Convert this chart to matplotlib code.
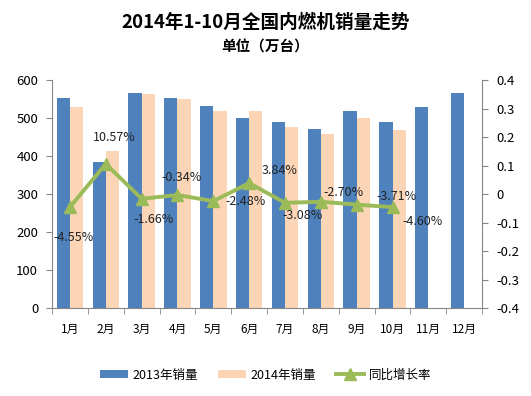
import matplotlib
matplotlib.use('Agg')
import matplotlib.pyplot as plt
import numpy as np

plt.rcParams['font.family'] = ['Noto Sans CJK SC', 'DejaVu Sans']

# --- data ---
months = ["1月", "2月", "3月", "4月", "5月", "6月", "7月", "8月", "9月", "10月", "11月", "12月"]
sales_2013 = [553, 383, 565, 552, 531, 501, 490, 471, 519, 490, 529, 565]
sales_2014 = [529, 413, 562, 550, 519, 519, 476, 458, 500, 468]
growth = [-4.55, 10.57, -1.66, -0.34, -2.48, 3.84, -3.08, -2.70, -3.71, -4.60]
# label offsets (pixels) relative to each marker
label_offsets = [(4, -30), (8, 26), (12, -21), (4, 18), (32, 0), (30, 13),
                 (18, -13), (23, 9), (40, 8), (30, -14)]

BLUE = '#4F81BD'
PEACH = '#FBD5B5'
GREEN = '#9BBB59'
GRAY = '#868686'

fig = plt.figure(figsize=(5.31, 3.96), dpi=100)
ax = fig.add_axes([0.098, 0.222, 0.81, 0.576])

x = np.arange(len(months))
w = 0.37
ax.bar(x[:len(sales_2013)] - w / 2, sales_2013, w, color=BLUE, label='2013年销量', zorder=2)
ax.bar(x[:len(sales_2014)] + w / 2, sales_2014, w, color=PEACH, label='2014年销量', zorder=2)

ax.set_xlim(-0.5, 11.5)
ax.set_ylim(0, 600)
ax.set_yticks(range(0, 601, 100))
ax.set_xticks(x)
ax.set_xticklabels(months, fontsize=8.5)
ax.set_xticks(np.arange(-0.5, 12, 1), minor=True)
ax.tick_params(axis='x', which='major', length=0, pad=11)
ax.tick_params(axis='x', which='minor', length=4, color=GRAY, direction='out')
ax.tick_params(axis='y', labelsize=9.5, length=4, color=GRAY, pad=6)
for s in ['top', 'right']:
    ax.spines[s].set_visible(False)
for s in ['left', 'bottom']:
    ax.spines[s].set_color(GRAY)

ax2 = ax.twinx()
g = np.array(growth) / 100
line, = ax2.plot(x[:len(g)], g, color=GREEN, lw=2.8, marker='^', ms=9,
                 label='同比增长率', zorder=3)
ax2.set_ylim(-0.4, 0.4)
ax2.set_yticks(np.arange(-0.4, 0.41, 0.1))
ax2.set_yticklabels(['-0.4', '-0.3', '-0.2', '-0.1', '0', '0.1', '0.2', '0.3', '0.4'])
ax2.tick_params(axis='y', labelsize=9.5, length=4, color=GRAY, pad=6)
for s in ['top', 'left', 'bottom']:
    ax2.spines[s].set_visible(False)
ax2.spines['right'].set_color(GRAY)

for xi, gi, val, off in zip(x, g, growth, label_offsets):
    ax2.annotate(f"{val:.2f}%", (xi, gi), xytext=off, textcoords='offset pixels',
                 ha='center', va='center', fontsize=9, color='#222222', zorder=4)

fig.text(0.5, 0.944, '2014年1-10月全国内燃机销量走势', ha='center', va='center',
         fontsize=13.4, fontweight='bold')
fig.text(0.5, 0.882, '单位（万台）', ha='center', va='center',
         fontsize=10.5, fontweight='bold')

h1, l1 = ax.get_legend_handles_labels()
fig.legend(h1 + [line], l1 + ['同比增长率'], loc='center', bbox_to_anchor=(0.5, 0.053),
           ncol=3, frameon=False, fontsize=9, handlelength=2.2, handleheight=0.6,
           columnspacing=1.6, handletextpad=0.4)

fig.savefig('out.png', dpi=100)
